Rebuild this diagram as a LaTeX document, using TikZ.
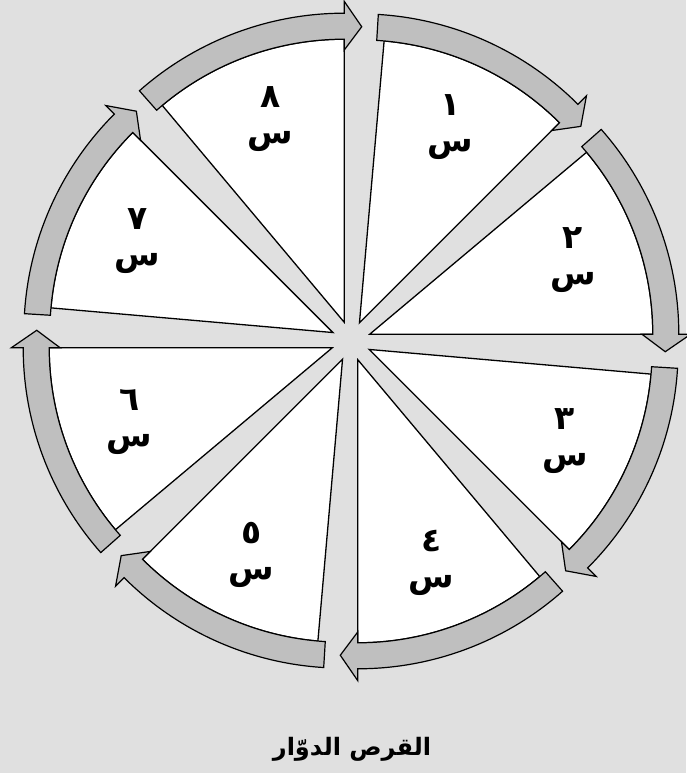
\documentclass[tikz,border=0pt]{standalone}
\usepackage{fontspec}
\usetikzlibrary{calc}
\newfontfamily\arabicfont[Script=Arabic]{DejaVu Sans}
\TeXXeTstate=1
\definecolor{bgcol}{RGB}{224,224,224}
\definecolor{arrcol}{RGB}{191,191,191}
\tikzset{
  wedge/.style={draw=black,fill=white,line width=1.3pt,line join=miter},
  cyclearrow/.style={draw=black,fill=arrcol,line width=1.2pt,line join=miter},
  lab/.style={align=center,inner sep=0pt,font=\arabicfont\bfseries\fontsize{33}{36}\selectfont},
  captxt/.style={inner sep=0pt,font=\arabicfont\bfseries\fontsize{24}{28}\selectfont}
}
\begin{document}
\begin{tikzpicture}[x=1pt,y=1pt]
\fill[bgcol] (0,0) rectangle (686,773);
\useasboundingbox (0,0) rectangle (686,773);
\coordinate (C) at (351,432);
\foreach \n/\d in {1/١,2/٢,3/٣,4/٤,5/٥,6/٦,7/٧,8/٨}{
  \pgfmathsetmacro\a{45*(2-\n)}
  \pgfmathsetmacro\b{\a+20}
  \pgfmathsetmacro\e{\a+40}
  \pgfmathsetmacro\t{\a+41.5}
  \pgfmathsetmacro\h{\a-3.4}
  \coordinate (V\n) at ($(C)+(\b:20)$);
  \draw[wedge] (V\n) -- ($(V\n)+(\a:283)$) arc[start angle=\a, end angle=\e, radius=283] -- cycle;
  \draw[cyclearrow] ($(V\n)+(\t:283)$) arc[start angle=\t, end angle=\a, radius=283]
     -- ($(V\n)+(\a:272)$) -- ($(V\n)+(\h:296)$) -- ($(V\n)+(\a:321)$) -- ($(V\n)+(\a:309)$)
     arc[start angle=\a, end angle=\t, radius=309] -- cycle;
  \node[lab] (l\n) at ($(V\n)+(\b:216)$) {\d\\س};
}
\node[captxt] (cap) at (352,24) {\beginR القرص الدوّار\endR};
\end{tikzpicture}
\end{document}
